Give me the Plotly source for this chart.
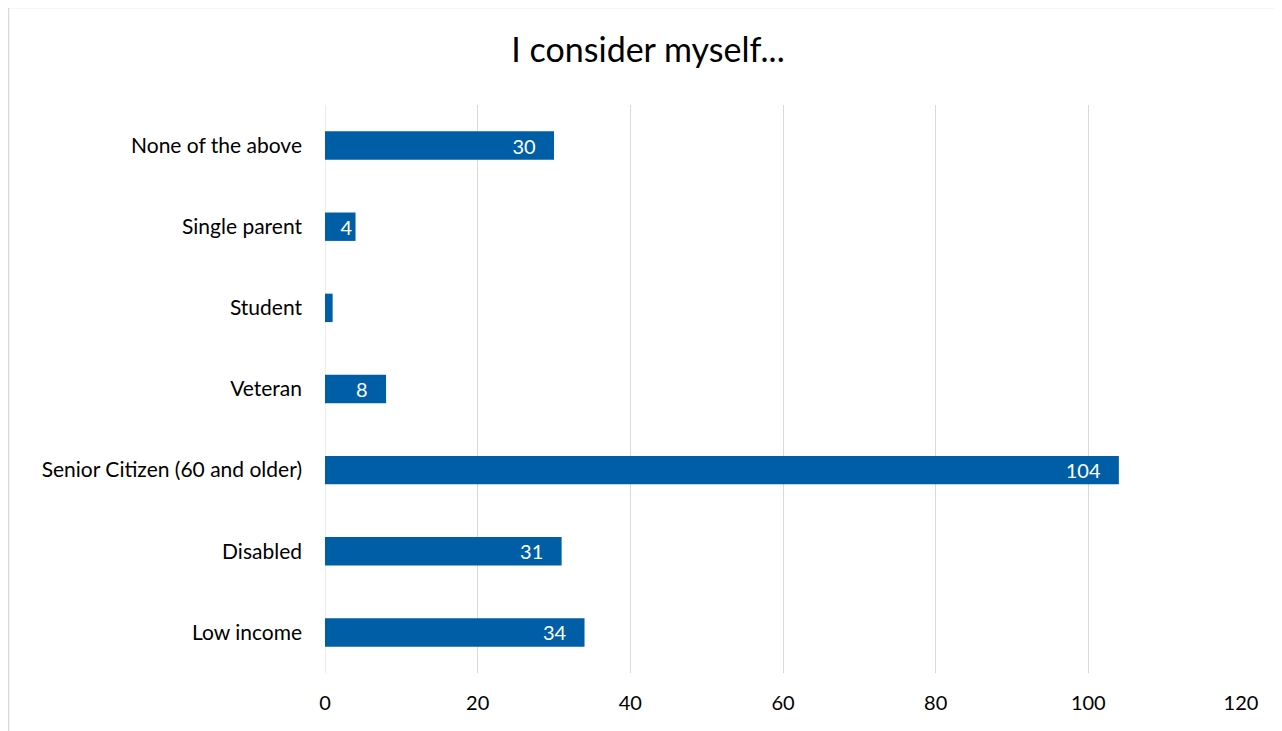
import plotly.graph_objects as go

categories = ["Low income", "Disabled", "Senior Citizen (60 and older)", "Veteran",
              "Student", "Single parent", "None of the above"]
values = [34, 31, 104, 8, 1, 4, 30]
x_ticks = [0, 20, 40, 60, 80, 100, 120]

FONT = "Lato, 'Open Sans', sans-serif"
W, H = 1282, 731
OFF = 8  # page body margin
L = 325 - OFF
T = 105 - OFF
pw, ph = 916, 568
R = W - L - pw
B = H - T - ph

NB = "\u00a0"
# labels sit a little in from the bar end when there is room; hidden when the bar is too short
templates = ["%{x}" + (NB * 3 if v >= 6 else "") for v in values]
positions = ["inside" if v >= 2 else "none" for v in values]

fig = go.Figure(go.Bar(
    y=categories, x=values, orientation="h",
    marker=dict(color="#005ea6", line=dict(width=0)),
    width=0.35,
    texttemplate=templates,
    textposition=positions, insidetextanchor="end",
    textangle=0,
    constraintext="none",
    textfont=dict(color="white", size=20, family=FONT),
    cliponaxis=False,
    hoverinfo="x+y",
))

fig.update_layout(
    width=W, height=H,
    margin=dict(l=L, r=R, t=T, b=B),
    paper_bgcolor="white", plot_bgcolor="white",
    title=dict(text="I consider myself...", x=(648 - OFF) / W, xanchor="center",
               y=1 - (50 - OFF) / H, yanchor="middle",
               font=dict(size=34, family=FONT, color="#000000")),
    font=dict(family=FONT, size=21, color="#000000"),
    showlegend=False,
    xaxis=dict(range=[0, 120], tickvals=x_ticks, showgrid=True, gridcolor="#d9d9d9",
               gridwidth=1, zeroline=False, showline=False, ticks="",
               ticklabelstandoff=16, tickfont=dict(size=20, family=FONT)),
    yaxis=dict(range=[-0.5, 6.5], showgrid=False, zeroline=False, showline=False,
               ticks="", ticklabelstandoff=22, tickfont=dict(size=21, family=FONT)),
    shapes=[dict(type="rect", xref="paper", yref="paper",
                 x0=(0.5 - L) / pw, x1=(1278 - OFF - L) / pw,
                 y0=(H - T - 800) / ph, y1=(H - B + 0.5) / ph,
                 line=dict(color="#d9d9d9", width=1.5), fillcolor="rgba(0,0,0,0)",
                 layer="below"),
            dict(type="line", xref="x", yref="paper", x0=0, x1=0, y0=0, y1=1,
                 line=dict(color="#d9d9d9", width=1), layer="below")],
)

fig.write_html("out.html")
